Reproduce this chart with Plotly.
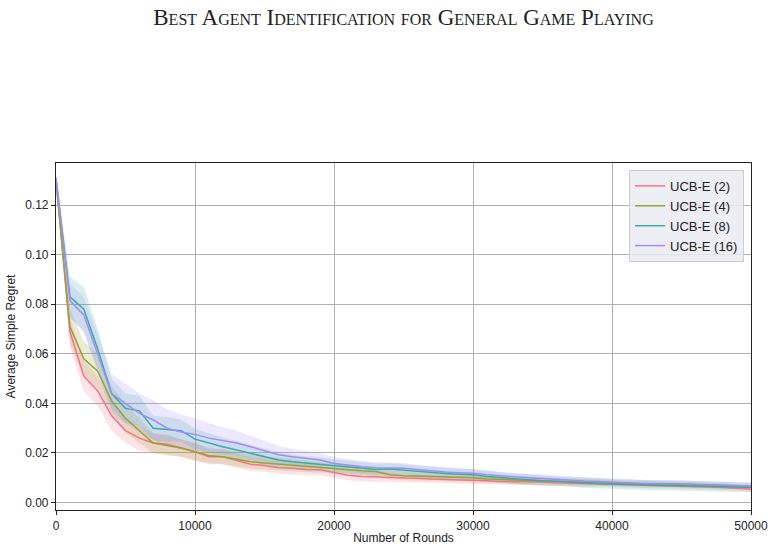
import plotly.graph_objects as go

rounds = list(range(0, 50001, 1000))

series_names = ["UCB-E (2)", "UCB-E (4)", "UCB-E (8)", "UCB-E (16)"]
colors = ["#f77189", "#97a431", "#36ada4", "#a48cf4"]

ucb2 = [0.130, 0.069, 0.051, 0.045, 0.035, 0.029, 0.026, 0.024, 0.0235, 0.022,
        0.0205, 0.0185, 0.0185, 0.017, 0.0155, 0.015, 0.014, 0.0138, 0.0133, 0.0132,
        0.0122, 0.011, 0.0105, 0.0104, 0.0100, 0.0100, 0.0098, 0.0095, 0.0094, 0.0093,
        0.0090, 0.0088, 0.0085, 0.0085, 0.0084, 0.0083, 0.0080, 0.0079, 0.0076, 0.0078,
        0.0074, 0.0072, 0.0071, 0.0070, 0.0068, 0.0067, 0.0065, 0.0063, 0.0061, 0.0059,
        0.0055]
ucb4 = [0.130, 0.071, 0.058, 0.053, 0.041, 0.034, 0.029, 0.024, 0.023, 0.022,
        0.0205, 0.019, 0.0185, 0.0175, 0.0165, 0.016, 0.0155, 0.015, 0.0145, 0.0143,
        0.0138, 0.0133, 0.0128, 0.0125, 0.0112, 0.0108, 0.0106, 0.0105, 0.0104, 0.0102,
        0.0100, 0.0095, 0.0093, 0.0090, 0.0088, 0.0085, 0.0084, 0.0082, 0.0081, 0.0080,
        0.0078, 0.0077, 0.0076, 0.0075, 0.0074, 0.0072, 0.0071, 0.0070, 0.0068, 0.0065,
        0.0062]
ucb8 = [0.131, 0.083, 0.078, 0.062, 0.044, 0.038, 0.037, 0.030, 0.0295, 0.029,
        0.0256, 0.024, 0.0225, 0.0212, 0.0198, 0.0185, 0.0172, 0.0165, 0.016, 0.0155,
        0.0148, 0.0143, 0.0138, 0.0133, 0.0135, 0.0130, 0.0125, 0.0120, 0.0117, 0.0114,
        0.0112, 0.0105, 0.0100, 0.0096, 0.0092, 0.0088, 0.0086, 0.0084, 0.0080, 0.0077,
        0.0075, 0.0073, 0.0072, 0.0070, 0.0069, 0.0068, 0.0066, 0.0065, 0.0064, 0.0063,
        0.0062]
ucb16 = [0.131, 0.0815, 0.0757, 0.060, 0.044, 0.040, 0.036, 0.0333, 0.030, 0.0285,
         0.0275, 0.026, 0.025, 0.024, 0.0225, 0.0208, 0.0193, 0.0185, 0.0178, 0.0172,
         0.0158, 0.0150, 0.0145, 0.0140, 0.0140, 0.0138, 0.0133, 0.0127, 0.0123, 0.0120,
         0.0118, 0.0112, 0.0107, 0.0104, 0.0100, 0.0097, 0.0093, 0.0090, 0.0087, 0.0085,
         0.0082, 0.0080, 0.0078, 0.0077, 0.0078, 0.0076, 0.0074, 0.0072, 0.0071, 0.0069,
         0.0067]

err2 = [0.001, 0.006, 0.006, 0.006, 0.006, 0.005, 0.005, 0.004, 0.004, 0.0035,
        0.0035, 0.003, 0.003, 0.003, 0.0028, 0.0026, 0.0025, 0.0024, 0.0023, 0.0022,
        0.0021, 0.002, 0.002, 0.0019, 0.0018, 0.0018, 0.0017, 0.0016, 0.0016, 0.0015,
        0.0015, 0.0015, 0.0014, 0.0014, 0.0014, 0.0013, 0.0013, 0.0013, 0.0012, 0.0012,
        0.0012, 0.0012, 0.0011, 0.0011, 0.0011, 0.0011, 0.0011, 0.001, 0.001, 0.001,
        0.001]
err4 = [0.001, 0.007, 0.007, 0.007, 0.006, 0.006, 0.005, 0.004, 0.004, 0.0035,
        0.0035, 0.003, 0.003, 0.003, 0.0028, 0.0027, 0.0026, 0.0025, 0.0024, 0.0023,
        0.0022, 0.0021, 0.002, 0.002, 0.0019, 0.0018, 0.0018, 0.0017, 0.0017, 0.0016,
        0.0016, 0.0015, 0.0015, 0.0015, 0.0014, 0.0014, 0.0014, 0.0013, 0.0013, 0.0013,
        0.0012, 0.0012, 0.0012, 0.0012, 0.0011, 0.0011, 0.0011, 0.0011, 0.001, 0.001,
        0.001]
err8 = [0.001, 0.008, 0.009, 0.008, 0.006, 0.006, 0.006, 0.005, 0.005, 0.0045,
        0.0042, 0.004, 0.0038, 0.0036, 0.0034, 0.0032, 0.003, 0.0029, 0.0028, 0.0027,
        0.0026, 0.0026, 0.0025, 0.0025, 0.0024, 0.0024, 0.0023, 0.0023, 0.0022, 0.0022,
        0.0022, 0.0021, 0.0021, 0.0021, 0.0021, 0.002, 0.002, 0.002, 0.002, 0.002,
        0.002, 0.002, 0.002, 0.002, 0.002, 0.002, 0.002, 0.002, 0.002, 0.002,
        0.002]
err16 = [0.001, 0.007, 0.007, 0.008, 0.008, 0.008, 0.008, 0.008, 0.0075, 0.007,
         0.0065, 0.006, 0.0055, 0.005, 0.0045, 0.004, 0.0035, 0.0032, 0.003, 0.0028,
         0.0026, 0.0025, 0.0024, 0.0023, 0.0022, 0.0021, 0.002, 0.002, 0.0019, 0.0019,
         0.0018, 0.0018, 0.0017, 0.0017, 0.0016, 0.0016, 0.0016, 0.0015, 0.0015, 0.0015,
         0.0015, 0.0014, 0.0014, 0.0014, 0.0014, 0.0014, 0.0013, 0.0013, 0.0013, 0.0013,
         0.0013]

values = [ucb2, ucb4, ucb8, ucb16]
errors = [err2, err4, err8, err16]


def rgba(hexc, a):
    h = hexc.lstrip("#")
    r, g, b = int(h[0:2], 16), int(h[2:4], 16), int(h[4:6], 16)
    return f"rgba({r},{g},{b},{a})"


fig = go.Figure()

for name, col, v, e in zip(series_names, colors, values, errors):
    upper = [a + b for a, b in zip(v, e)]
    lower = [a - b for a, b in zip(v, e)]
    fig.add_trace(go.Scatter(
        x=rounds + rounds[::-1], y=upper + lower[::-1],
        fill="toself", fillcolor=rgba(col, 0.2), line=dict(width=0),
        hoverinfo="skip", showlegend=False, mode="lines"))

for name, col, v in zip(series_names, colors, values):
    fig.add_trace(go.Scatter(x=rounds, y=v, mode="lines", name=name,
                             line=dict(color=col, width=1.5)))

SANS = "Liberation Sans, Arial, sans-serif"

axis_common = dict(
    showline=True, linecolor="#222222", linewidth=1.2, mirror=True,
    showgrid=True, gridcolor="#b0b0b0", gridwidth=1,
    ticks="outside", ticklen=4, tickcolor="#222222",
    tickfont=dict(family=SANS, size=12, color="#222222"),
    zeroline=False, automargin=False,
)

fig.update_layout(
    template="none",
    width=774, height=550,
    margin=dict(l=56, r=23, t=163, b=40, autoexpand=False),
    paper_bgcolor="white", plot_bgcolor="white",
    title=dict(
        text="Best Agent Identification for General Game Playing",
        x=(56 + 751) / 2 / 774, xanchor="center", y=1 - 17 / 550, yanchor="middle",
        font=dict(family="Liberation Serif, DejaVu Serif, serif", size=23,
                  color="#222222", variant="small-caps"),
    ),
    xaxis=dict(range=[0, 50000], tickvals=[0, 10000, 20000, 30000, 40000, 50000],
               tickformat="d",
               title=dict(text="Number of Rounds", standoff=2,
                          font=dict(family=SANS, size=12, color="#222222")),
               **axis_common),
    yaxis=dict(range=[-0.003, 0.137], tickvals=[0, 0.02, 0.04, 0.06, 0.08, 0.10, 0.12],
               tickformat=".2f",
               title=dict(text="Average Simple Regret", standoff=6,
                          font=dict(family=SANS, size=12, color="#222222")),
               **axis_common),
    legend=dict(x=0.99, y=0.98, xanchor="right", yanchor="top",
                bgcolor="rgba(234,234,242,0.85)", bordercolor="#cccccc", borderwidth=1,
                font=dict(family=SANS, size=13, color="#222222"),
                tracegroupgap=0),
    showlegend=True,
)

fig.write_html("out.html")
